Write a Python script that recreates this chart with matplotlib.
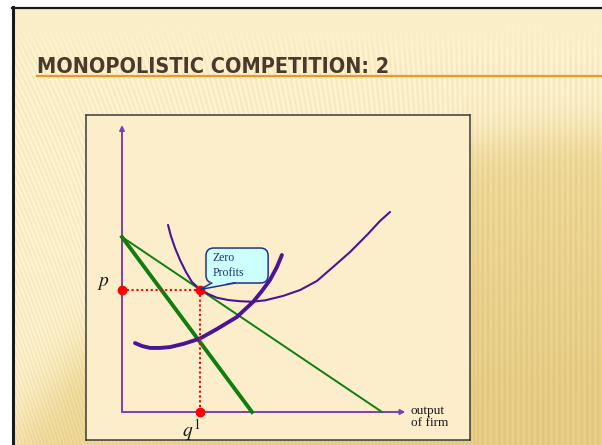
import numpy as np
import matplotlib.pyplot as plt
import matplotlib.font_manager as fm
from matplotlib.patches import FancyBboxPatch, Polygon

plt.rcParams['mathtext.fontset'] = 'stix'

# demand (AR) and marginal revenue: straight lines from the price intercept
ar_q = [0, 10]
ar_p = [10, 0]
mr_q = [0, 5]
mr_p = [10, 0]

# average cost curve (U-shaped, tangent to demand at q1)
ac_q = [1.77, 1.88, 2.04, 2.23, 2.46, 2.69, 3.0, 3.31, 3.65, 4.08, 4.54, 5.0, 5.5,
        6.19, 6.85, 7.5, 8.12, 8.77, 9.42, 9.92, 10.31]
ac_p = [10.69, 10.06, 9.37, 8.69, 8.0, 7.43, 7.0, 6.75, 6.53, 6.4, 6.33, 6.3, 6.38,
        6.63, 6.97, 7.49, 8.29, 9.14, 10.11, 10.91, 11.43]

# marginal cost curve
mc_q = [0.5, 0.77, 1.08, 1.46, 1.85, 2.38, 3.0, 3.65, 4.42, 5.04, 5.38, 5.69, 5.96, 6.15]
mc_p = [3.94, 3.77, 3.66, 3.66, 3.71, 3.9, 4.2, 4.74, 5.43, 6.29, 6.91, 7.54, 8.29, 8.97]

# equilibrium
q_eq = 3
p_eq = 7

W, H = 602, 445
fig = plt.figure(figsize=(W / 100, H / 100), dpi=100)
fig.patch.set_facecolor('white')

# slide background
bg = fig.add_axes([0, 0, 1, 1])
bg.set_xlim(0, W)
bg.set_ylim(H, 0)
bg.axis('off')

yy, xx = np.mgrid[7:H, 12:W] + 0.5
d = np.hypot(xx - 600, yy - 850)
w = 1 / (1 + np.exp((d - 720) / 14))
w2 = np.clip((720 - d) / 260, 0, 1)
cream = np.array([251, 239, 201]) / 255
gold = np.array([238, 216, 152]) / 255
deep = np.array([226, 198, 122]) / 255
img = cream * (1 - w[..., None]) + gold * w[..., None]
img = img * (1 - 0.7 * w2[..., None]) + deep * 0.7 * w2[..., None]
slant = 0.55 * (1 - np.clip(xx / 480, 0, 1))
phase = xx - yy * slant
amp = 0.025 * np.clip((yy - 25) / 40, 0, 1)
img = img * (1 + amp[..., None] * np.sin(2 * np.pi * phase / 5.5)[..., None])
bg.imshow(np.clip(img, 0, 1), extent=(12, W, H, 7), aspect='auto', interpolation='bilinear')
bg.plot([12, W], [7.5, 7.5], color='#1a1a1a', lw=1.6)
bg.plot([13, 13], [7, H], color='#1a1a1a', lw=2.2)

# title: pick a narrow face if one is installed
narrow = [f for f in fm.fontManager.ttflist
          if any(k in f.name + f.fname for k in ('Narrow', 'Condensed', 'Cond'))
          and 'Italic' not in f.fname and 'Oblique' not in f.fname]
narrow.sort(key=lambda f: (f.weight not in ('bold', 700), 'Light' in f.fname))
if narrow:
    title_font = fm.FontProperties(fname=narrow[0].fname)
else:
    title_font = fm.FontProperties(family='DejaVu Sans', weight='bold')
title_font.set_size(21)

bg.plot([37, W], [76, 76], color='#F0962A', lw=1.6, zorder=2)
title = bg.text(37, 73, 'MONOPOLISTIC COMPETITION: 2', fontproperties=title_font,
                color='#4A3A2C', ha='left', va='baseline', zorder=3)
fig.canvas.draw()
tw = title.get_window_extent().width
if tw > 352:
    title_font.set_size(21 * 351 / tw)
    title.set_fontproperties(title_font)

# diagram panel, one q unit = 26 px, one p unit = 17.5 px
ax = fig.add_axes([86 / W, 5 / H, 384 / W, 325 / H])
ax.set_xlim((86 - 122) / 26, (470 - 122) / 26)
ax.set_ylim((412 - 440) / 17.5, (412 - 115) / 17.5)
ax.set_facecolor('#FCEECB')
for s in ax.spines.values():
    s.set_color('#3a3a3a')
    s.set_linewidth(1.1)
ax.set_xticks([])
ax.set_yticks([])

axis_col = '#7B3FB5'
ax.annotate('', xy=(0, 16.4), xytext=(0, 0),
            arrowprops=dict(arrowstyle='-|>', color=axis_col, lw=1.4, mutation_scale=7,
                            shrinkA=0, shrinkB=0))
ax.annotate('', xy=(10.9, 0), xytext=(0, 0),
            arrowprops=dict(arrowstyle='-|>', color=axis_col, lw=1.4, mutation_scale=7,
                            shrinkA=0, shrinkB=0))

green = '#0E7E0E'
purple = '#4B1496'
ax.plot(ar_q, ar_p, color=green, lw=1.4, zorder=3)
ax.plot(mr_q, mr_p, color=green, lw=2.8, zorder=3)
ax.plot(ac_q, ac_p, color=purple, lw=1.5, zorder=4, solid_capstyle='round',
        solid_joinstyle='round')
ax.plot(mc_q, mc_p, color=purple, lw=2.8, zorder=4, solid_capstyle='round',
        solid_joinstyle='round')

red = '#FF0000'
ax.plot([0, q_eq], [p_eq, p_eq], color=red, lw=1.5, ls=(0, (1, 1.3)), zorder=5)
ax.plot([q_eq, q_eq], [p_eq, 0], color=red, lw=1.5, ls=(0, (1, 1.3)), zorder=5)
ax.plot([0, q_eq, q_eq], [p_eq, p_eq, 0], 'o', color=red, ms=6, zorder=6)

ax.text(-0.7, p_eq + 0.4, '$p$', fontsize=14, ha='center', va='center', color='#1a1a1a')
ax.text(q_eq - 0.35, -1.05, '$q^1$', fontsize=14, ha='center', va='center', color='#1a1a1a')
ax.text(11.1, -0.3, 'output\nof firm', fontsize=9.5, family='Liberation Serif',
        ha='left', va='center', linespacing=1.0, color='#1a1a1a')

# "Zero Profits" callout
box_x0, box_x1 = 3.23, 5.62
box_y0, box_y1 = 7.37, 9.37
navy = '#24308A'
ax.add_patch(FancyBboxPatch((box_x0, box_y0), box_x1 - box_x0, box_y1 - box_y0,
                            boxstyle='round,pad=0,rounding_size=0.3',
                            mutation_aspect=26 / 17.5, fc='#CCFFFF', ec=navy,
                            lw=1.1, zorder=7))
tail = [(3.45, box_y0 + 0.08), (4.35, box_y0 + 0.08), (q_eq, p_eq)]
ax.add_patch(Polygon(tail, closed=True, fc='#CCFFFF', ec='none', zorder=8))
ax.plot([3.45, q_eq, 4.35], [box_y0, p_eq, box_y0], color=navy, lw=1.1, zorder=8)
ax.text(box_x0 + 0.27, (box_y0 + box_y1) / 2, 'Zero\nProfits', fontsize=8.5,
        family='Liberation Serif', color='#233278', ha='left', va='center',
        linespacing=1.25, zorder=9)

fig.savefig('out.png', dpi=100)
